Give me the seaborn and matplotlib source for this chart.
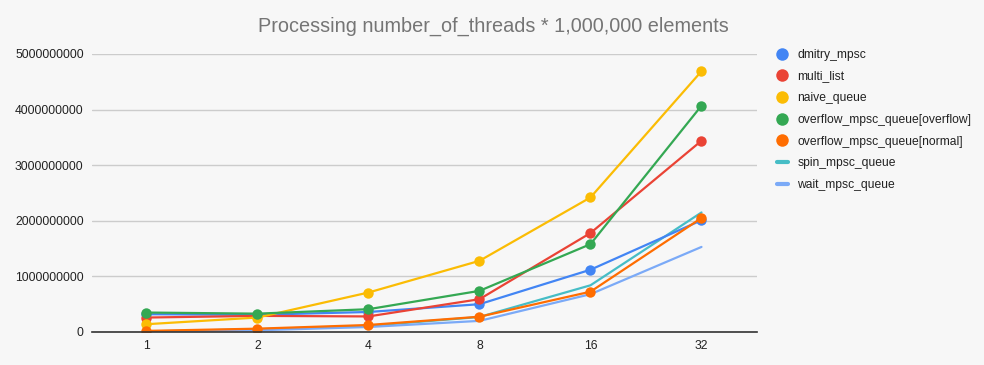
import pandas as pd
import matplotlib.pyplot as plt
import seaborn as sns
from matplotlib.lines import Line2D

sns.set_theme(style="white")
plt.rcParams['font.family'] = ['Liberation Sans', 'DejaVu Sans']

# 数据
threads = ['1', '2', '4', '8', '16', '32']
dmitry_mpsc = [0.32e9, 0.31e9, 0.36e9, 0.50e9, 1.12e9, 2.01e9]
multi_list = [0.26e9, 0.29e9, 0.28e9, 0.59e9, 1.78e9, 3.44e9]
naive_queue = [0.14e9, 0.26e9, 0.71e9, 1.28e9, 2.42e9, 4.69e9]
overflow_overflow = [0.35e9, 0.33e9, 0.41e9, 0.74e9, 1.58e9, 4.07e9]
overflow_normal = [0.02e9, 0.06e9, 0.126e9, 0.275e9, 0.725e9, 2.05e9]
spin_mpsc_queue = [0.01e9, 0.05e9, 0.11e9, 0.27e9, 0.84e9, 2.15e9]
wait_mpsc_queue = [0.01e9, 0.03e9, 0.09e9, 0.20e9, 0.68e9, 1.53e9]

series = {
    'dmitry_mpsc': dmitry_mpsc,
    'multi_list': multi_list,
    'naive_queue': naive_queue,
    'overflow_mpsc_queue[overflow]': overflow_overflow,
    'overflow_mpsc_queue[normal]': overflow_normal,
    'spin_mpsc_queue': spin_mpsc_queue,
    'wait_mpsc_queue': wait_mpsc_queue,
}
colors = ['#4285f4', '#ea4335', '#fbbc04', '#34a853', '#ff6d01', '#46bdc6', '#7baaf7']
has_marker = [True, True, True, True, True, False, False]

rows = []
for name, vals in series.items():
    for i, v in enumerate(vals):
        rows.append({'series': name, 'pos': i, 'value': v})
df = pd.DataFrame(rows)

bg = '#f7f7f7'
fig = plt.figure(figsize=(9.84, 3.65), dpi=100, facecolor=bg)
ax = fig.add_axes([92 / 984, 33 / 365, 665 / 984, 278 / 365], facecolor=bg)

# 先画无标记的线，再画带标记的线
names = list(series.keys())
order = [5, 6, 0, 1, 2, 3, 4]
for k in order:
    name = names[k]
    sub = df[df['series'] == name]
    sns.lineplot(data=sub, x='pos', y='value', ax=ax, color=colors[k], linewidth=1.6,
                 marker='o' if has_marker[k] else None, markersize=7.5,
                 markeredgewidth=0, legend=False)

ax.set_xlim(-0.49, 5.5)
ax.set_ylim(0, 5e9)
ax.set_xticks(range(len(threads)))
ax.set_xticklabels(threads)
ax.set_yticks([0, 1e9, 2e9, 3e9, 4e9, 5e9])
ax.set_yticklabels(['0', '1000000000', '2000000000', '3000000000', '4000000000', '5000000000'])
ax.tick_params(axis='both', labelsize=8.7, colors='#222222', length=0, pad=6)
ax.set_xlabel('')
ax.set_ylabel('')
ax.grid(axis='y', color='#cccccc', linewidth=1)
ax.set_axisbelow(True)
for s in ['top', 'right', 'left']:
    ax.spines[s].set_visible(False)
ax.spines['bottom'].set_color('#333333')
ax.spines['bottom'].set_linewidth(1.2)

fig.text(493 / 984, 1 - 26 / 365, 'Processing number_of_threads * 1,000,000 elements',
         ha='center', va='center', fontsize=14.3, color='#757575')

handles = []
for k, name in enumerate(names):
    if has_marker[k]:
        h = Line2D([], [], linestyle='none', marker='o', markersize=9,
                   markerfacecolor=colors[k], markeredgewidth=0, label=name)
    else:
        h = Line2D([], [], color=colors[k], linewidth=3, label=name)
    handles.append(h)
fig.legend(handles=handles, loc='upper left', bbox_to_anchor=(766 / 984, 1 - 38 / 365),
           frameon=False, fontsize=8.7, handlelength=0.9, handletextpad=0.8,
           labelspacing=0.8, labelcolor='#222222')

plt.savefig('out.png', dpi=100, facecolor=bg)
